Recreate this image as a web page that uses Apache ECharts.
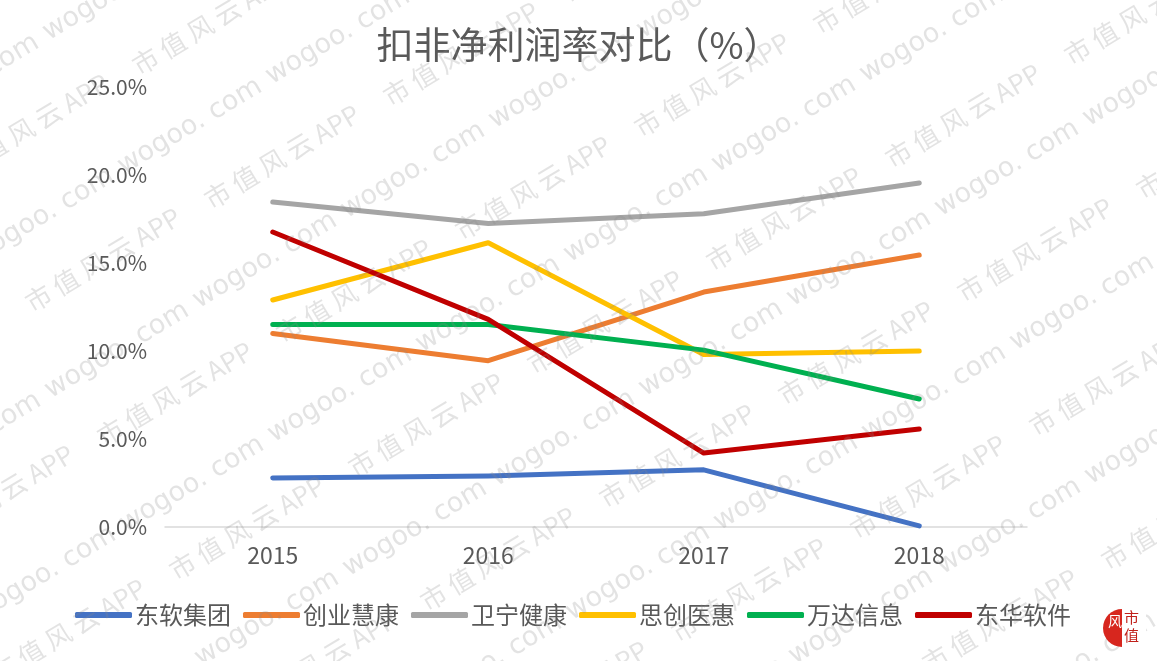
<!DOCTYPE html>
<html>
<head>
<meta charset="utf-8">
<script src="https://cdn.jsdelivr.net/npm/echarts@6/dist/echarts.min.js"></script>
<style>
  html, body { margin: 0; padding: 0; background: #fff; }
  #chart { width: 1157px; height: 661px; }
</style>
</head>
<body>
<div id="chart"></div>
<script>
// 年份
const years = ["2015", "2016", "2017", "2018"];
// 扣非净利润率 (%)
const dongruan = [2.78, 2.9, 3.25, 0.06];
const chuangye = [11.0, 9.45, 13.35, 15.45];
const weining = [18.47, 17.25, 17.8, 19.55];
const sichuang = [12.9, 16.15, 9.8, 10.0];
const wanda = [11.5, 11.5, 10.05, 7.27];
const donghua = [16.76, 11.8, 4.2, 5.57];
const seriesNames = ["东软集团", "创业慧康", "卫宁健康", "思创医惠", "万达信息", "东华软件"];
const seriesData = [dongruan, chuangye, weining, sichuang, wanda, donghua];
const colorArray = ["#4472C4", "#ED7D31", "#A5A5A5", "#FFC000", "#00B050", "#C00000"];
const yTicks = [0, 5, 10, 15, 20, 25];

const textColor = "#595959";
const fontFamily = "'Noto Sans CJK SC', 'Noto Sans', sans-serif";

// 水印（斜排重复文字）
function watermark(text, ox, oy, ax, ay, bx, by, fontSize, font) {
  const items = [];
  for (let i = -8; i <= 12; i++) {
    for (let j = -8; j <= 8; j++) {
      const x = ox + i * ax + j * bx;
      const y = oy + i * ay + j * by;
      if (x < -260 || x > 1180 || y < -20 || y > 800) continue;
      items.push({
        type: "text",
        x: x,
        y: y,
        rotation: 0.54,
        silent: true,
        z: 100,
        style: {
          text: text,
          x: 0,
          y: 0,
          align: "left",
          verticalAlign: "bottom",
          fill: "rgba(140,140,140,0.24)",
          fontSize: fontSize,
          fontFamily: font,
        },
      });
    }
  }
  return items;
}

const marks = []
  .concat(watermark("wogoo. com", 127, 180, 148, -90, 75, 134, 27, "'DejaVu Sans', sans-serif"))
  .concat(watermark("市 值 风 云 APP", 213, 213, 179, -103, 72, 134, 26, fontFamily));

const chart = echarts.init(document.getElementById("chart"));
const option = {
  backgroundColor: "#fff",
  title: {
    text: "扣非净利润率对比（%）",
    left: "center",
    top: 21,
    textStyle: {
      color: textColor,
      fontSize: 37,
      fontWeight: 400,
      fontFamily: fontFamily,
    },
  },
  legend: {
    left: 70,
    top: 598,
    icon: "roundRect",
    itemWidth: 57,
    itemHeight: 6,
    itemGap: 12,
    textStyle: {
      color: textColor,
      fontSize: 24,
      fontFamily: fontFamily,
      padding: [0, 0, 0, -2],
    },
    data: seriesNames.map((n, i) => ({ name: n, itemStyle: { color: colorArray[i] } })),
  },
  grid: {
    left: 165,
    right: 130,
    top: 87,
    bottom: 134,
    containLabel: false,
  },
  xAxis: {
    type: "category",
    boundaryGap: true,
    data: years,
    axisTick: { show: false },
    axisLine: { lineStyle: { color: "#D9D9D9", width: 1.5 } },
    axisLabel: {
      color: textColor,
      fontSize: 23,
      fontFamily: fontFamily,
      margin: 17,
    },
  },
  yAxis: {
    type: "value",
    min: yTicks[0],
    max: yTicks[yTicks.length - 1],
    interval: 5,
    splitLine: { show: false },
    axisLine: { show: false },
    axisTick: { show: false },
    axisLabel: {
      color: textColor,
      fontSize: 21,
      fontFamily: fontFamily,
      margin: 18,
      formatter: (v) => v.toFixed(1) + "%",
    },
  },
  series: seriesNames.map((name, i) => ({
    name: name,
    type: "line",
    symbol: "none",
    data: seriesData[i],
    itemStyle: { color: colorArray[i] },
    lineStyle: { color: colorArray[i], width: 5, cap: "round", join: "round" },
    z: 2 + i,
  })),
  graphic: marks.concat([
    {
      type: "circle",
      shape: { cx: 1122, cy: 628, r: 19 },
      style: { fill: "#D7261E" },
      z: 101,
    },
    {
      type: "rect",
      shape: { x: 1122, y: 606, width: 24, height: 44 },
      style: { fill: "#fff" },
      z: 101,
    },
    {
      type: "text",
      left: 1108,
      top: 614,
      z: 102,
      style: { text: "风", fill: "#fff", fontSize: 14, fontFamily: fontFamily },
    },
    {
      type: "text",
      left: 1124,
      top: 608,
      z: 102,
      style: { text: "市\n值", fill: "#C0201A", fontSize: 15, lineHeight: 18, fontFamily: fontFamily },
    },
  ]),
};
chart.setOption(option);
</script>
</body>
</html>
